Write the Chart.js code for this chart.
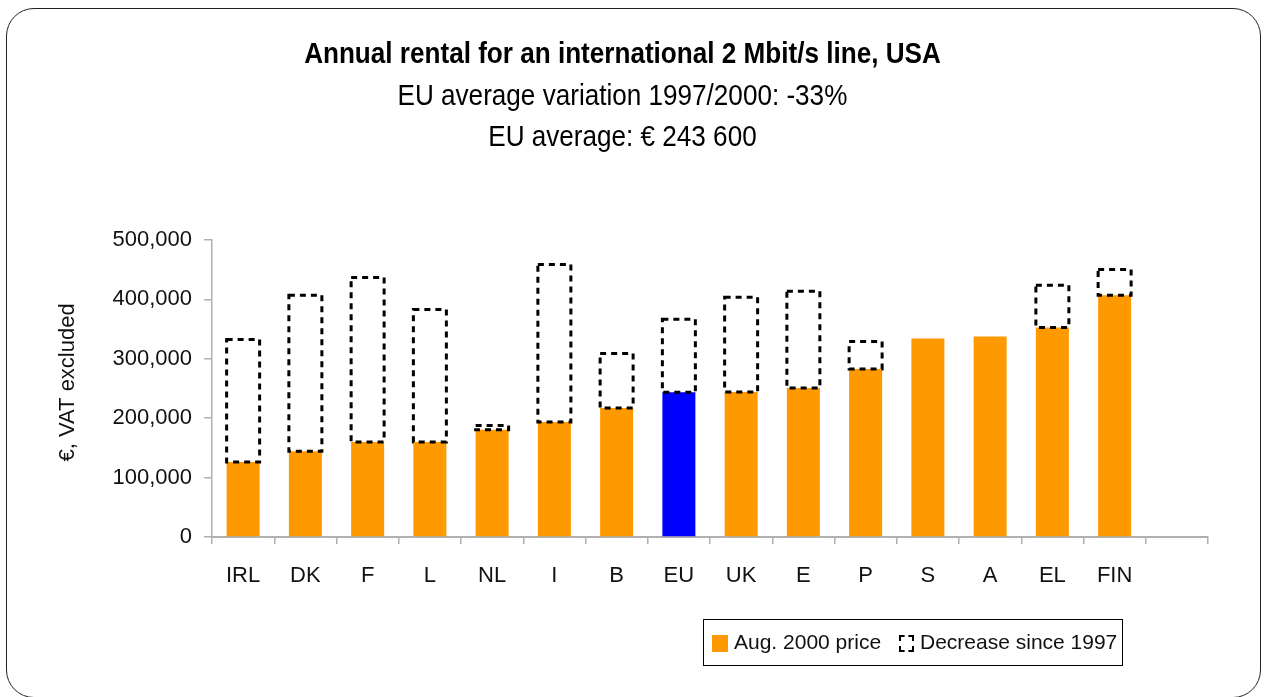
<!DOCTYPE html>
<html>
<head>
<meta charset="utf-8">
<script src="https://cdn.jsdelivr.net/npm/chart.js@4.4.1/dist/chart.umd.min.js"></script>
<style>
  body { margin: 0; background: #fff; }
  #wrap { position: relative; width: 1267px; height: 697px; overflow: hidden; }
  #frame { position: absolute; left: 6px; top: 8px; width: 1255px; height: 690px; border: 1.5px solid #222; border-radius: 28px; box-sizing: border-box; }
  .t { position: absolute; left: 0; width: 1245px; text-align: center; color: #000; font-family: 'Liberation Sans', Arial, sans-serif; white-space: nowrap; transform: scaleX(0.9); transform-origin: 622px 0; }
  #legend { position: absolute; left: 703px; top: 619px; width: 420px; height: 47px; border: 1.5px solid #000; box-sizing: border-box; font-family: 'Liberation Sans', Arial, sans-serif; font-size: 21px; color: #111; }
  #legend span { position: absolute; top: 10px; }
  .sw1 { position: absolute; left: 8px; top: 15px; width: 16px; height: 17px; background: #ff9900; }
  .sw2 { position: absolute; left: 195px; top: 15px; width: 15px; height: 17px; border: 2px dashed #000; box-sizing: border-box; }
</style>
</head>
<body>
<div id="wrap">
  <canvas id="myChart" width="1267" height="697"></canvas>
  <div id="frame"></div>
  <div class="t" style="top:37px;font-size:29px;font-weight:bold;">Annual rental for an international 2 Mbit/s line, USA</div>
  <div class="t" style="top:79px;font-size:29px;">EU average variation 1997/2000: -33%</div>
  <div class="t" style="top:120px;font-size:29px;">EU average: € 243 600</div>
  <div id="legend">
    <div class="sw1"></div><span style="left:30px;">Aug. 2000 price</span>
    <div class="sw2"></div><span style="left:216px;">Decrease since 1997</span>
  </div>
</div>
<script>
const countries = ["IRL", "DK", "F", "L", "NL", "I", "B", "EU", "UK", "E", "P", "S", "A", "EL", "FIN", ""];

// Aug. 2000 price, euro
const price2000 = [126300, 144400, 160100, 160000, 180400, 193400, 217100, 243600, 244200, 250900, 283000, 334300, 337700, 352900, 407000, null];
// decrease since 1997 (1997 price minus 2000 price)
const decrease = [206300, 262600, 276800, 222800, 7300, 265500, 91800, 122800, 159400, 162900, 46200, 0, 0, 71000, 43500, null];

const yTicks = [0, 100000, 200000, 300000, 400000, 500000];

const barColors = countries.map(c => c == "EU" ? "#0000ff" : "#ff9900");

// dashed outline on top of the orange bars
const dashedBoxes = {
  id: 'dashedBoxes',
  afterDatasetsDraw(chart) {
    const ctx = chart.ctx;
    const meta = chart.getDatasetMeta(1);
    ctx.save();
    ctx.strokeStyle = '#000';
    ctx.lineWidth = 3;
    ctx.setLineDash([6, 5]);
    meta.data.forEach(function(bar, i) {
      if (!decrease[i]) return;
      const p = bar.getProps(['x', 'y', 'base', 'width'], true);
      ctx.strokeRect(p.x - p.width / 2, p.y, p.width, p.base - p.y);
    });
    ctx.restore();
  }
};

const tickFont = { family: "'Liberation Sans', Arial, sans-serif", size: 22 };

const config = {
  type: 'bar',
  data: {
    labels: countries,
    datasets: [
      {
        label: 'Aug. 2000 price',
        data: price2000,
        backgroundColor: barColors,
        borderWidth: 0,
        barPercentage: 0.53,
        categoryPercentage: 1
      },
      {
        label: 'Decrease since 1997',
        data: decrease,
        backgroundColor: 'rgba(0,0,0,0)',
        borderWidth: 0,
        barPercentage: 0.53,
        categoryPercentage: 1
      }
    ]
  },
  options: {
    responsive: false,
    animation: false,
    layout: { padding: { top: 240, right: 59, bottom: 0, left: 0 } },
    plugins: {
      legend: { display: false },
      tooltip: { enabled: false },
      title: { display: false }
    },
    scales: {
      x: {
        stacked: true,
        afterFit: s => { s.height = 160; },
        border: { color: '#b0b0b0', width: 2 },
        grid: { drawOnChartArea: false, color: '#b0b0b0', tickLength: 7, lineWidth: 1.5 },
        ticks: { color: '#111', font: tickFont, padding: 19, maxRotation: 0, autoSkip: false }
      },
      y: {
        stacked: true,
        min: 0,
        max: 500000,
        afterFit: s => { s.width = 212; },
        afterBuildTicks: s => { s.ticks = yTicks.map(v => ({ value: v })); },
        border: { color: '#b0b0b0', width: 1.5 },
        grid: { drawOnChartArea: false, color: '#b0b0b0', tickLength: 8, lineWidth: 1.5 },
        ticks: { color: '#111', font: tickFont, padding: 12 },
        title: {
          display: true,
          text: '\u00a0\u00a0€, VAT excluded',
          color: '#111',
          font: { family: "'Liberation Sans', Arial, sans-serif", size: 22 },
          padding: { top: 55, bottom: 0 }
        }
      }
    }
  },
  plugins: [dashedBoxes]
};

var myChart = new Chart(document.getElementById('myChart'), config);
</script>
</body>
</html>
